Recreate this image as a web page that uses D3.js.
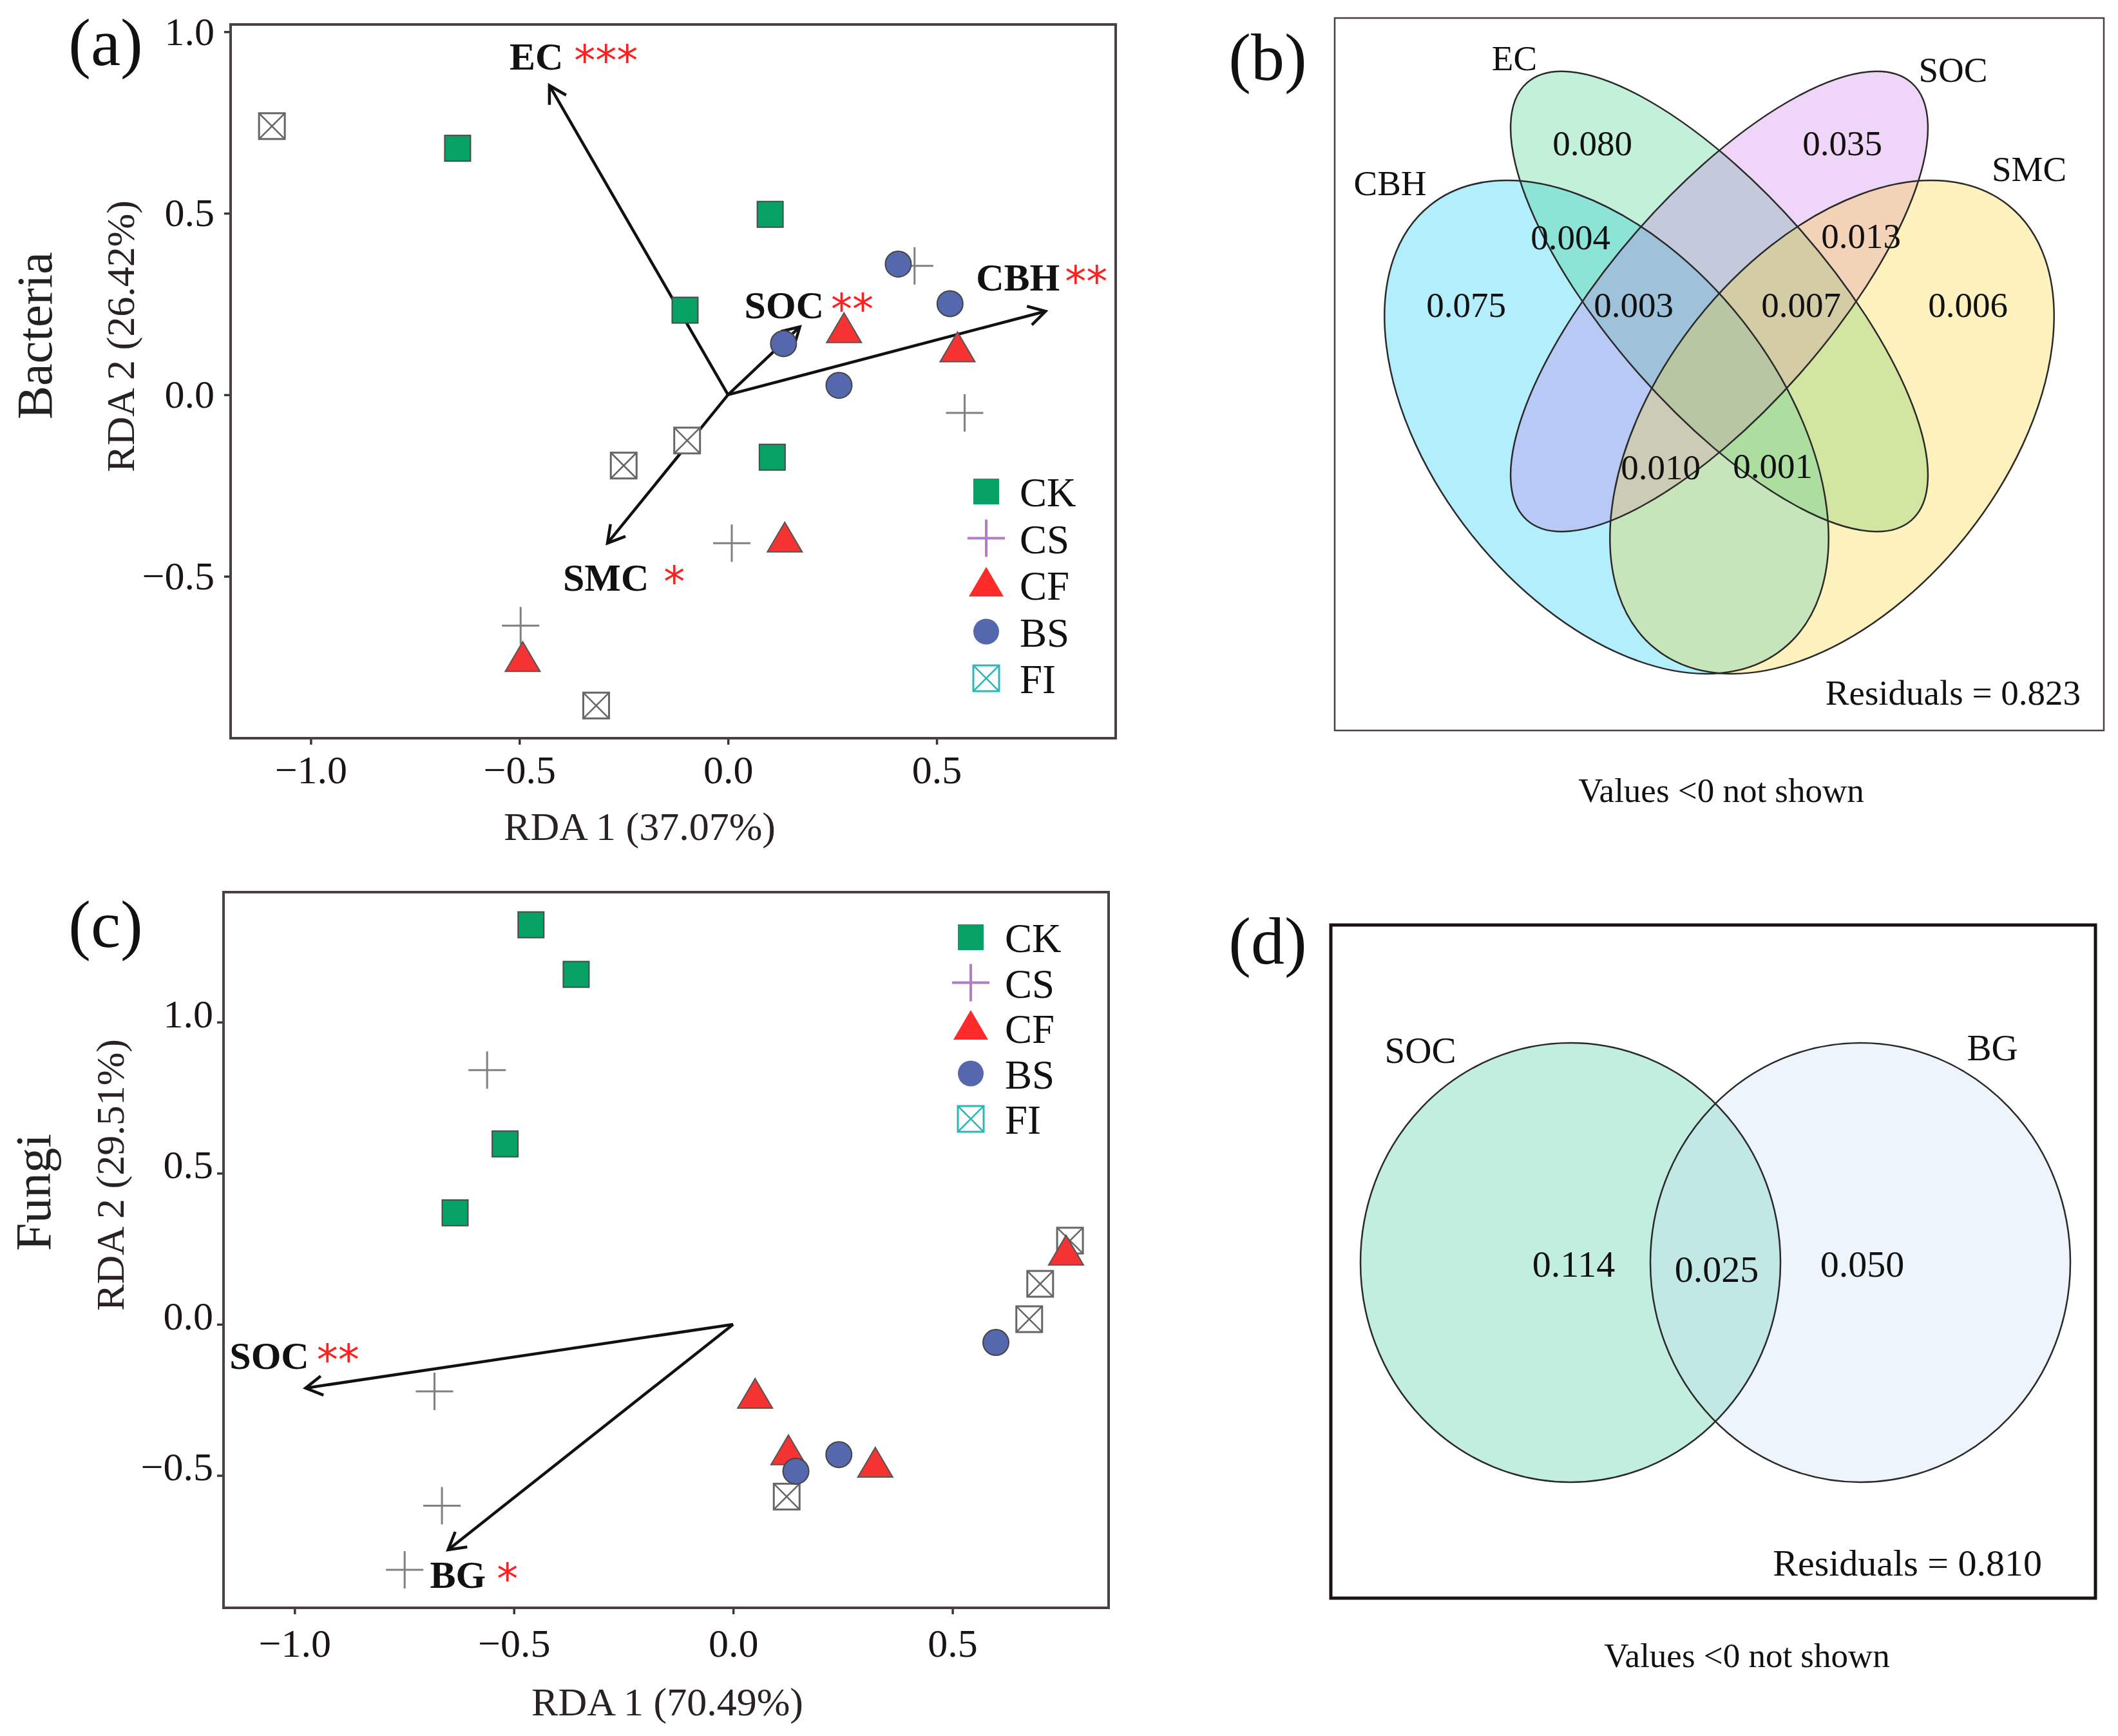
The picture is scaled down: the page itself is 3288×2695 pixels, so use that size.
<!DOCTYPE html>
<html><head><meta charset="utf-8">
<script src="https://cdn.jsdelivr.net/npm/d3@7"></script>
<style>body{margin:0;background:#fff} svg{display:block}</style>
</head><body>
<svg id="c" width="3288" height="2695"></svg>
<script>
// ================= DATA =================
const groups = ["CK", "CS", "CF", "BS", "FI"];
const xTicks = [-1.0, -0.5, 0.0, 0.5];
const yTicks = [-0.5, 0.0, 0.5, 1.0];

// Panel (a) Bacteria: RDA site scores [RDA1, RDA2]
const bacCK = [[-0.648, 0.679], [0.101, 0.497], [-0.103, 0.233], [0.106, -0.172]];
const bacCS = [[0.447, 0.355], [0.567, -0.050], [0.009, -0.409], [-0.497, -0.636]];
const bacCF = [[0.278, 0.176], [0.550, 0.123], [0.136, -0.401], [-0.492, -0.730]];
const bacBS = [[0.408, 0.360], [0.532, 0.251], [0.133, 0.141], [0.266, 0.026]];
const bacFI = [[-1.093, 0.740], [-0.098, -0.126], [-0.250, -0.195], [-0.316, -0.856]];
const bacVarNames = ["EC", "SOC", "CBH", "SMC"];
const bacVarSig = ["***", "**", "**", "*"];
const bacVarX = [-0.428, 0.172, 0.761, -0.289];
const bacVarY = [0.852, 0.187, 0.230, -0.409];

// Panel (c) Fungi
const funCK = [[-0.461, 1.322], [-0.358, 1.158], [-0.520, 0.597], [-0.634, 0.369]];
const funCS = [[-0.561, 0.841], [-0.681, -0.222], [-0.664, -0.600], [-0.749, -0.812]];
const funCF = [[0.759, 0.235], [0.050, -0.239], [0.126, -0.426], [0.324, -0.467]];
const funBS = [[0.599, -0.060], [0.241, -0.431], [0.143, -0.486]];
const funFI = [[0.768, 0.277], [0.700, 0.134], [0.675, 0.017], [0.122, -0.570]];
const funVarNames = ["SOC", "BG"];
const funVarSig = ["**", "*"];
const funVarX = [-0.975, -0.650];
const funVarY = [-0.211, -0.746];

// Panel (b) variation partitioning, bacteria
const vpBSets = ["CBH", "EC", "SOC", "SMC"];
const vpBRegions = ["CBH", "EC", "SOC", "SMC", "CBH&EC", "SOC&SMC", "CBH&EC&SOC", "EC&SOC&SMC", "CBH&SOC&SMC", "CBH&EC&SMC"];
const vpBValues = ["0.075", "0.080", "0.035", "0.006", "0.004", "0.013", "0.003", "0.007", "0.010", "0.001"];
const vpBResidual = "0.823";

// Panel (d) variation partitioning, fungi
const vpDSets = ["SOC", "BG"];
const vpDRegions = ["SOC", "SOC&BG", "BG"];
const vpDValues = ["0.114", "0.025", "0.050"];
const vpDResidual = "0.810";

// ================= LAYOUT / STYLE =================
const FONT = "'Liberation Serif','Times New Roman',serif";
const svg = d3.select("#c");
const style = {
  CK: {fill: "#07a065", stroke: "#4a4a4a", legend: "#07a065"},
  CS: {stroke: "#808080", legend: "#b47cc6"},
  CF: {fill: "#f53333", stroke: "#555", legend: "#ff2a2a"},
  BS: {fill: "#5567ad", stroke: "#444", legend: "#5567ad"},
  FI: {stroke: "#666", legend: "#2bb7b7"}
};

function marker(g, type, cx, cy, legend) {
  const s = style[type];
  if (type === "CK") {
    g.append("rect").attr("x", cx - 20).attr("y", cy - 20).attr("width", 40).attr("height", 40)
      .attr("fill", s.fill).attr("stroke", legend ? "none" : s.stroke).attr("stroke-width", 2);
  } else if (type === "CS") {
    const c = legend ? s.legend : s.stroke;
    g.append("path").attr("d", `M${cx - 29},${cy}H${cx + 29}M${cx},${cy - 29}V${cy + 29}`)
      .attr("stroke", c).attr("stroke-width", legend ? 4 : 3).attr("fill", "none");
  } else if (type === "CF") {
    g.append("path").attr("d", `M${cx},${cy - 28}L${cx + 27},${cy + 18}L${cx - 27},${cy + 18}Z`)
      .attr("fill", legend ? s.legend : s.fill).attr("stroke", legend ? "none" : s.stroke).attr("stroke-width", 2);
  } else if (type === "BS") {
    g.append("circle").attr("cx", cx).attr("cy", cy).attr("r", 20)
      .attr("fill", s.fill).attr("stroke", legend ? "none" : s.stroke).attr("stroke-width", 2);
  } else if (type === "FI") {
    const c = legend ? s.legend : s.stroke;
    g.append("rect").attr("x", cx - 20).attr("y", cy - 20).attr("width", 40).attr("height", 40)
      .attr("fill", "#fff").attr("stroke", c).attr("stroke-width", 3);
    g.append("path").attr("d", `M${cx - 20},${cy - 20}L${cx + 20},${cy + 20}M${cx + 20},${cy - 20}L${cx - 20},${cy + 20}`)
      .attr("stroke", c).attr("stroke-width", 2.5);
  }
}

function arrow(g, x0, y0, x1, y1) {
  g.append("line").attr("x1", x0).attr("y1", y0).attr("x2", x1).attr("y2", y1)
    .attr("stroke", "#111").attr("stroke-width", 4.5);
  const ang = Math.atan2(y1 - y0, x1 - x0), L = 30, w = Math.PI / 6;
  g.append("path").attr("d",
    `M${x1 - L * Math.cos(ang - w)},${y1 - L * Math.sin(ang - w)}L${x1},${y1}L${x1 - L * Math.cos(ang + w)},${y1 - L * Math.sin(ang + w)}`)
    .attr("fill", "none").attr("stroke", "#111").attr("stroke-width", 4.5).attr("stroke-linejoin", "miter");
}

function rdaPanel(opt) {
  const g = svg.append("g");
  const {x, y} = opt;
  const [x0, x1] = x.range(), [y0, y1] = y.range();
  const ax = g.append("g").attr("transform", `translate(0,${y0})`)
    .call(d3.axisBottom(x).tickValues(xTicks).tickFormat(d3.format(".1f")).tickSize(10).tickPadding(opt.xPad));
  const ay = g.append("g").attr("transform", `translate(${x0},0)`)
    .call(d3.axisLeft(y).tickValues(yTicks).tickFormat(d3.format(".1f")).tickSize(10).tickPadding(opt.yPad));
  [ax, ay].forEach(a => {
    a.select(".domain").remove();
    a.selectAll(".tick line").attr("stroke", "#3d3535").attr("stroke-width", 3.5);
    a.selectAll(".tick text").attr("font-family", FONT).attr("font-size", 62).attr("fill", "#1a1414");
  });
  ay.selectAll(".tick text").attr("dy", opt.yDy);
  g.append("rect").attr("x", x0).attr("y", y1).attr("width", x1 - x0).attr("height", y0 - y1)
    .attr("fill", "none").attr("stroke", "#4a4040").attr("stroke-width", 4);
  g.append("text").attr("x", opt.xTitle[0]).attr("y", opt.xTitle[1]).attr("text-anchor", "middle")
    .attr("font-family", FONT).attr("font-size", 62).attr("fill", "#2a2222").text(opt.xLabel);
  g.append("text").attr("transform", `translate(${opt.yTitle[0]},${opt.yTitle[1]}) rotate(-90)`).attr("text-anchor", "middle")
    .attr("font-family", FONT).attr("font-size", 62).attr("fill", "#2a2222").text(opt.yLabel);
  g.append("text").attr("transform", `translate(${opt.orgTitle[0]},${opt.orgTitle[1]}) rotate(-90)`).attr("text-anchor", "middle")
    .attr("font-family", FONT).attr("font-size", 78).attr("fill", "#222").text(opt.org);
  g.append("text").attr("x", opt.tag[0]).attr("y", opt.tag[1]).attr("text-anchor", "middle")
    .attr("font-family", FONT).attr("font-size", 104).attr("fill", "#111").text(opt.tagText);
  const ox = x(0), oy = y(0);
  opt.vx.forEach((vx, i) => arrow(g, ox, oy, x(vx), y(opt.vy[i])));
  const ptsG = g.append("g");
  opt.order.forEach(k => opt.pts[k].forEach(p => marker(ptsG, k, x(p[0]), y(p[1]), false)));
  opt.names.forEach((n, i) => {
    const off = opt.labOff[i];
    const t = g.append("text").attr("x", x(opt.vx[i]) + off[0]).attr("y", y(opt.vy[i]) + off[1])
      .attr("font-family", FONT).attr("font-size", 60).attr("font-weight", "bold").attr("fill", "#111");
    t.append("tspan").text(n);
    t.append("tspan").attr("dx", off[2]).attr("dy", 9).attr("font-size", 66).attr("font-weight", "normal")
      .attr("font-family", "'DejaVu Sans',sans-serif").attr("fill", "#ff2020").text(opt.sig[i]);
  });
  const lg = g.append("g");
  groups.forEach((k, i) => {
    const cy = opt.leg[1] + i * opt.leg[3];
    marker(lg, k, opt.leg[0], cy, true);
    lg.append("text").attr("x", opt.leg[2]).attr("y", cy + 23).attr("font-family", FONT)
      .attr("font-size", 63).attr("fill", "#111").text(k);
  });
}

rdaPanel({
  x: d3.scaleLinear().domain([-1.192, 0.929]).range([358, 1732]),
  y: d3.scaleLinear().domain([-0.946, 1.02]).range([1146, 38]),
  xPad: 16, yPad: 15, yDy: "0.32em",
  xLabel: "RDA 1 (37.07%)", yLabel: "RDA 2 (26.42%)", org: "Bacteria", tagText: "(a)",
  xTitle: [993, 1304], yTitle: [208, 522], orgTitle: [80, 521], tag: [164, 101],
  vx: bacVarX, vy: bacVarY, names: bacVarNames, sig: bacVarSig,
  labOff: [[-62, -25, 17], [-86, -13, 11], [-108, -32, 8], [-69, 74, 23]],
  pts: {CK: bacCK, CS: bacCS, CF: bacCF, BS: bacBS, FI: bacFI},
  order: ["FI", "CK", "CS", "BS", "CF"],
  leg: [1531, 763, 1583, 72.5]
});

rdaPanel({
  x: d3.scaleLinear().domain([-1.162, 0.856]).range([347, 1721]),
  y: d3.scaleLinear().domain([-0.938, 1.43]).range([2496, 1385]),
  xPad: 22, yPad: 6, yDy: "0.12em",
  xLabel: "RDA 1 (70.49%)", yLabel: "RDA 2 (29.51%)", org: "Fungi", tagText: "(c)",
  xTitle: [1036, 2663], yTitle: [192, 1824], orgTitle: [78, 1851], tag: [164, 1470],
  vx: funVarX, vy: funVarY, names: funVarNames, sig: funVarSig,
  labOff: [[-118, -30, 12], [-28, 59, 17]],
  pts: {CK: funCK, CS: funCS, CF: funCF, BS: funBS, FI: funFI},
  order: ["FI", "CK", "CS", "CF", "BS"],
  leg: [1507, 1455, 1560, 70.5]
});

// ================= Venn (b) =================
(function () {
  const g = svg.append("g");
  const box = {x: 2072, y: 28, w: 1194, h: 1106};
  const ell = {
    CBH: {cx: 2494, cy: 663, rx: 440, ry: 268, rot: 51.6, fill: "rgb(0,198,245)"},
    EC: {cx: 2669, cy: 468, rx: 452, ry: 168, rot: 48.7, fill: "rgb(52,205,125)"},
    SOC: {cx: 2669, cy: 468, rx: 452, ry: 168, rot: -48.7, fill: "rgb(202,115,228)"},
    SMC: {cx: 2844, cy: 663, rx: 440, ry: 268, rot: -51.6, fill: "rgb(250,209,38)"}
  };
  const setLab = {CBH: [2158, 303], EC: [2351, 109], SOC: [3032, 127], SMC: [3150, 281]};
  const regLab = {
    "CBH": [2276, 473], "EC": [2472, 222], "SOC": [2860, 222], "SMC": [3055, 473],
    "CBH&EC": [2438, 368], "SOC&SMC": [2889, 366], "CBH&EC&SOC": [2536, 473],
    "EC&SOC&SMC": [2796, 473], "CBH&SOC&SMC": [2578, 725], "CBH&EC&SMC": [2752, 723]
  };
  g.append("rect").attr("x", box.x).attr("y", box.y).attr("width", box.w).attr("height", box.h)
    .attr("fill", "none").attr("stroke", "#4a4040").attr("stroke-width", 2.5);
  vpBSets.forEach(s => {
    const e = ell[s];
    g.append("ellipse").attr("cx", 0).attr("cy", 0).attr("rx", e.rx).attr("ry", e.ry)
      .attr("transform", `translate(${e.cx},${e.cy}) rotate(${e.rot})`)
      .attr("fill", e.fill).attr("fill-opacity", 0.3);
  });
  vpBSets.forEach(s => {
    const e = ell[s];
    g.append("ellipse").attr("cx", 0).attr("cy", 0).attr("rx", e.rx).attr("ry", e.ry)
      .attr("transform", `translate(${e.cx},${e.cy}) rotate(${e.rot})`)
      .attr("fill", "none").attr("stroke", "#2a2a2a").attr("stroke-width", 2.5);
  });
  vpBSets.forEach(s => g.append("text").attr("x", setLab[s][0]).attr("y", setLab[s][1]).attr("text-anchor", "middle")
    .attr("font-family", FONT).attr("font-size", 55).attr("fill", "#111").text(s));
  vpBRegions.forEach((r, i) => g.append("text").attr("x", regLab[r][0]).attr("y", regLab[r][1] + 19)
    .attr("text-anchor", "middle").attr("font-family", FONT).attr("font-size", 55).attr("fill", "#111").text(vpBValues[i]));
  g.append("text").attr("x", 3230).attr("y", 1094).attr("text-anchor", "end").attr("font-family", FONT)
    .attr("font-size", 55).attr("fill", "#111").text("Residuals = " + vpBResidual);
  g.append("text").attr("x", 2672).attr("y", 1245).attr("text-anchor", "middle").attr("font-family", FONT)
    .attr("font-size", 53).attr("fill", "#111").text("Values <0 not shown");
  g.append("text").attr("x", 1968).attr("y", 124).attr("text-anchor", "middle").attr("font-family", FONT)
    .attr("font-size", 104).attr("fill", "#111").text("(b)");
})();

// ================= Venn (d) =================
(function () {
  const g = svg.append("g");
  const box = {x: 2066, y: 1436, w: 1187, h: 1045};
  const ell = {
    SOC: {cx: 2438, cy: 1960, rx: 326, ry: 341, fill: "rgb(52,198,152)"},
    BG: {cx: 2888, cy: 1960, rx: 326, ry: 341, fill: "rgb(194,218,245)"}
  };
  const setLab = {SOC: [2205, 1650], BG: [3093, 1646]};
  const regLab = {"SOC": [2443, 1962], "SOC&BG": [2665, 1970], "BG": [2891, 1962]};
  g.append("rect").attr("x", box.x).attr("y", box.y).attr("width", box.w).attr("height", box.h)
    .attr("fill", "none").attr("stroke", "#1a1212").attr("stroke-width", 5);
  vpDSets.forEach(s => {
    const e = ell[s];
    g.append("ellipse").attr("cx", e.cx).attr("cy", e.cy).attr("rx", e.rx).attr("ry", e.ry)
      .attr("fill", e.fill).attr("fill-opacity", 0.3);
  });
  vpDSets.forEach(s => {
    const e = ell[s];
    g.append("ellipse").attr("cx", e.cx).attr("cy", e.cy).attr("rx", e.rx).attr("ry", e.ry)
      .attr("fill", "none").attr("stroke", "#2a2a2a").attr("stroke-width", 2.5);
  });
  vpDSets.forEach(s => g.append("text").attr("x", setLab[s][0]).attr("y", setLab[s][1]).attr("text-anchor", "middle")
    .attr("font-family", FONT).attr("font-size", 57).attr("fill", "#111").text(s));
  vpDRegions.forEach((r, i) => g.append("text").attr("x", regLab[r][0]).attr("y", regLab[r][1] + 20)
    .attr("text-anchor", "middle").attr("font-family", FONT).attr("font-size", 58).attr("fill", "#111").text(vpDValues[i]));
  g.append("text").attr("x", 3170).attr("y", 2446).attr("text-anchor", "end").attr("font-family", FONT)
    .attr("font-size", 58).attr("fill", "#111").text("Residuals = " + vpDResidual);
  g.append("text").attr("x", 2712).attr("y", 2588).attr("text-anchor", "middle").attr("font-family", FONT)
    .attr("font-size", 53).attr("fill", "#111").text("Values <0 not shown");
  g.append("text").attr("x", 1968).attr("y", 1496).attr("text-anchor", "middle").attr("font-family", FONT)
    .attr("font-size", 104).attr("fill", "#111").text("(d)");
})();
</script>
</body></html>
